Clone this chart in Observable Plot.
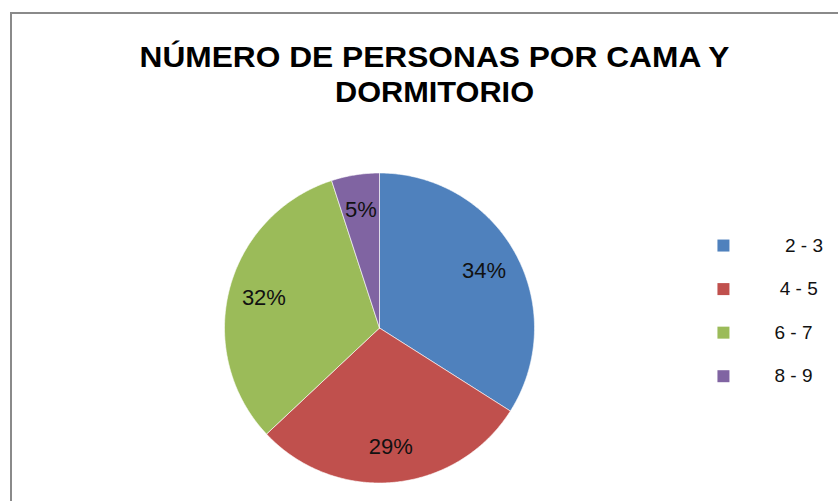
<!DOCTYPE html>
<html>
<head>
<meta charset="utf-8">
<script src="https://cdn.jsdelivr.net/npm/d3@7"></script>
<script src="https://cdn.jsdelivr.net/npm/@observablehq/plot@0.6"></script>
<style>
  html, body { margin: 0; padding: 0; background: #fff; }
  #wrap { position: relative; width: 838px; height: 501px; overflow: hidden; }
  #border { position: absolute; left: 10px; top: 12px; width: 900px; height: 600px;
            border-left: 2px solid #8a8a8a; border-top: 2px solid #8a8a8a; box-sizing: border-box; pointer-events: none; }
  svg { white-space: pre; }
</style>
</head>
<body>
<div id="wrap"><div id="border"></div></div>
<script>
const titleLines = ["NÚMERO DE PERSONAS POR CAMA Y", "DORMITORIO"];
const categories = ["  2 - 3", " 4 - 5", "6 - 7", "8 - 9"];
const values = [34, 29, 32, 5];
const colors = ["#4F81BD", "#C0504D", "#9BBB59", "#8064A2"];

const total = d3.sum(values);
let acc = 0;
const slices = values.map((v, i) => {
  const a0 = acc / total * 2 * Math.PI;
  acc += v;
  const a1 = acc / total * 2 * Math.PI;
  return {cat: categories[i], value: v, a0, a1, mid: (a0 + a1) / 2, pct: Math.round(v / total * 100) + "%"};
});

// polygon outline of each slice in unit coordinates (clockwise from top)
const outline = [];
for (const s of slices) {
  outline.push({cat: s.cat, x: 0, y: 0});
  const n = Math.max(2, Math.ceil((s.a1 - s.a0) / (Math.PI / 360)));
  for (let k = 0; k <= n; ++k) {
    const a = s.a0 + (s.a1 - s.a0) * k / n;
    outline.push({cat: s.cat, x: Math.sin(a), y: Math.cos(a)});
  }
  outline.push({cat: s.cat, x: 0, y: 0});
}

const labelR = 0.77;
const labels = slices.map(s => ({text: s.pct, x: labelR * Math.sin(s.mid), y: labelR * Math.cos(s.mid)}));

// legend placed to the right of the pie (unit coordinates)
const legX = 2.219, legY0 = 0.532, legStep = 0.281;
const legend = categories.map((c, i) => ({cat: c, x: legX, y: legY0 - i * legStep}));

const chart = Plot.plot({
  width: 838,
  height: 501,
  margin: 0,
  x: {domain: [-1, 1], range: [224, 534], axis: null},
  y: {domain: [-1, 1], range: [482.5, 172.5], axis: null},
  color: {domain: categories, range: colors},
  style: {fontFamily: "'Liberation Sans', Arial, sans-serif", background: "transparent"},
  marks: [
    Plot.line(outline, {x: "x", y: "y", z: "cat", fill: "cat", stroke: "white", strokeWidth: 0.6, curve: "linear"}),
    Plot.text(labels, {x: "x", y: "y", text: "text", fontSize: 22, fill: "#111"}),
    Plot.dot(legend, {x: "x", y: "y", fill: "cat", symbol: "square", r: 6.77, stroke: null}),
    Plot.text(legend, {x: "x", y: "y", text: "cat", textAnchor: "start", dx: 51, fontSize: 19, fill: "#111"}),
    Plot.text([titleLines.join("\n")], {frameAnchor: "top", lineAnchor: "top", dx: 15, dy: 42,
      fontSize: 29.5, fontWeight: "bold", lineHeight: 1.18, fill: "#000", className: "title"})
  ]
});
// stretch the title lines horizontally to the reference's widths
const tspans = chart.querySelectorAll(".title text tspan");
const lineWidths = [590, 199];
tspans.forEach((t, i) => {
  if (lineWidths[i]) { t.setAttribute("textLength", lineWidths[i]); t.setAttribute("lengthAdjust", "spacingAndGlyphs"); }
});
chart.style.position = "absolute";
chart.style.left = "0px";
chart.style.top = "0px";
document.getElementById("wrap").appendChild(chart);
</script>
</body>
</html>
